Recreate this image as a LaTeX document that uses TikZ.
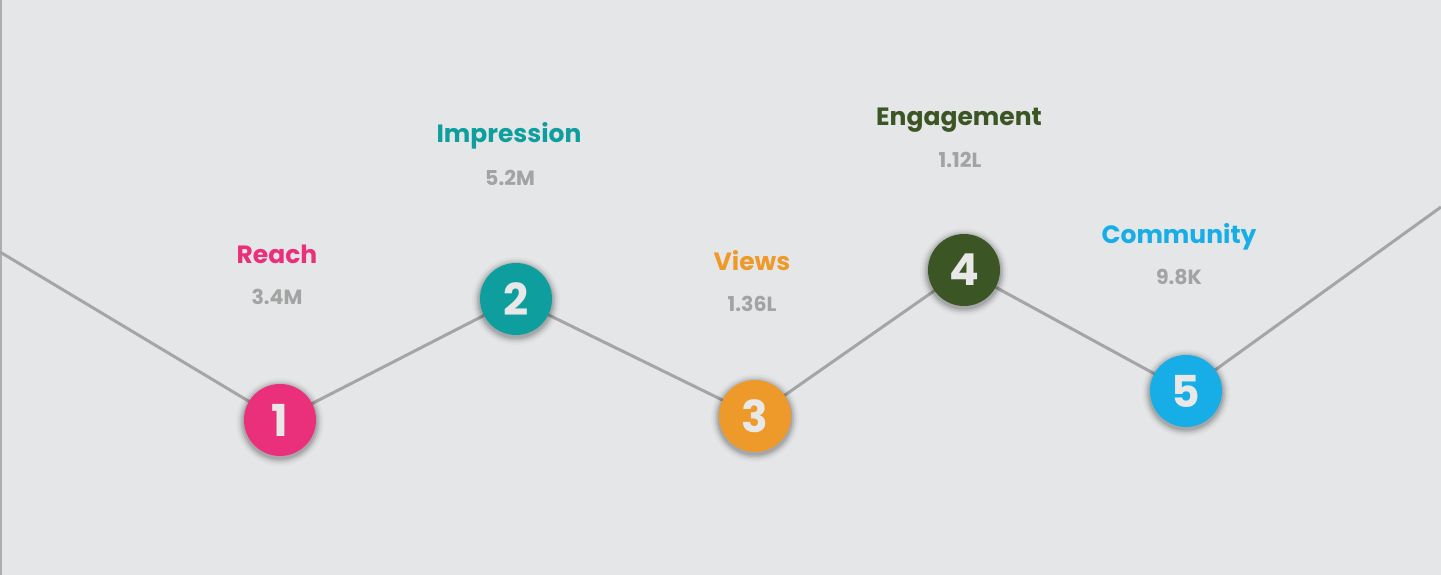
\documentclass[tikz,border=0pt]{standalone}
\usepackage{fontspec}
\setmainfont{Poppins}
\definecolor{bg}{HTML}{E5E6E8}
\definecolor{linegray}{HTML}{A5A5A5}
\definecolor{valgray}{HTML}{A3A3A3}
\definecolor{cpink}{HTML}{EA2F7B}
\definecolor{cteal}{HTML}{0F9E9E}
\definecolor{corange}{HTML}{EE9A2B}
\definecolor{cgreen}{HTML}{3B5624}
\definecolor{cblue}{HTML}{17AEE8}
\definecolor{digit}{HTML}{E8E8E8}
\tikzset{
  trail/.style={draw=linegray, line width=3pt},
  dot/.style={circle, minimum size=72pt, inner sep=0pt, fill=#1,
    text=digit, font=\fontsize{44}{44}\selectfont\bfseries},
  title/.style={text=#1, font=\fontsize{25}{25}\selectfont\bfseries, anchor=base},
  value/.style={text=valgray, font=\fontsize{20.5}{20.5}\selectfont\bfseries, anchor=center},
}
\newcommand{\haloat}[1]{%
  \foreach \r/\o in {44/0.025,42/0.04,40.5/0.06,39/0.08,37.5/0.1}
    \fill[black, opacity=\o] ([yshift=-2pt]#1) circle (\r pt);}
\begin{document}
\begin{tikzpicture}[x=1pt, y=-1pt]
  \useasboundingbox (0,0) rectangle (1441,575);
  \fill[bg] (0,0) rectangle (1441,575);
  \draw[draw=linegray!90, line width=2pt] (1,0) -- (1,575);

  % path end points and circle centres
  \coordinate (start) at (0,252);
  \coordinate (p1) at (280,420);
  \coordinate (p2) at (516,299);
  \coordinate (p3) at (755,416);
  \coordinate (p4) at (964,270);
  \coordinate (p5) at (1186,391);
  \coordinate (finish) at (1441,207);

  \draw[trail] (start) -- (p1) -- (p2) -- (p3) -- (p4) -- (p5) -- (finish);

  \haloat{p1}\haloat{p2}\haloat{p3}\haloat{p4}\haloat{p5}

  \node[dot=cpink]   (n1) at (p1) {1};
  \node[dot=cteal]   (n2) at (p2) {2};
  \node[dot=corange] (n3) at (p3) {3};
  \node[dot=cgreen]  (n4) at (p4) {4};
  \node[dot=cblue]   (n5) at (p5) {5};

  \node[title=cpink]   (t1) at (277,263) {Reach};
  \node[value]         (v1) at (277,297) {3.4M};
  \node[title=cteal]   (t2) at (509,143) {Impression};
  \node[value]         (v2) at (510,178) {5.2M};
  \node[title=corange] (t3) at (752,270) {Views};
  \node[value]         (v3) at (752,304) {1.36L};
  \node[title=cgreen]  (t4) at (959,126) {Engagement};
  \node[value]         (v4) at (960,160) {1.12L};
  \node[title=cblue]   (t5) at (1179,243) {Community};
  \node[value]         (v5) at (1179,277) {9.8K};
\end{tikzpicture}
\end{document}
